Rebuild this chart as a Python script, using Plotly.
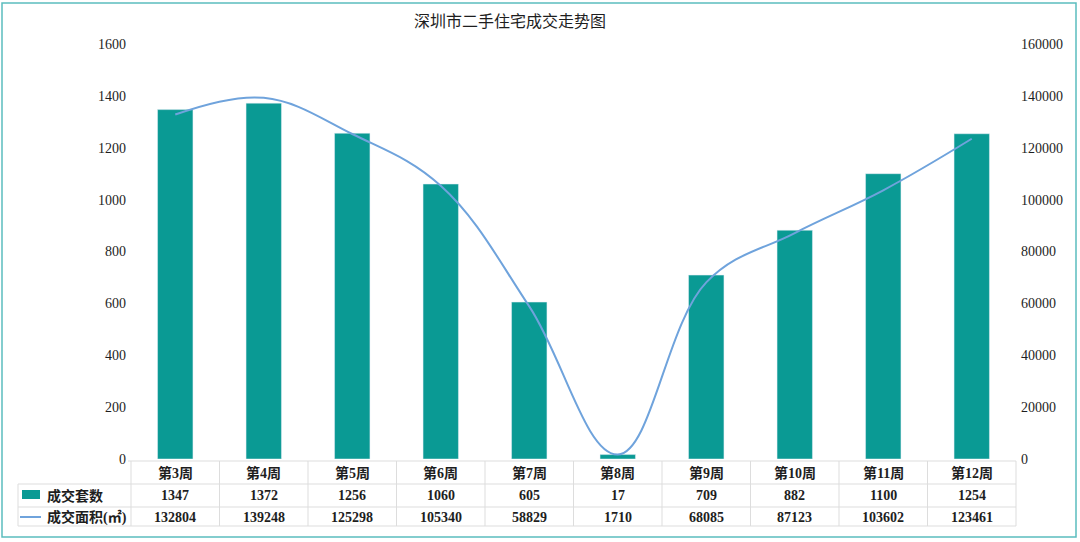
import plotly.graph_objects as go

weeks = ["第3周", "第4周", "第5周", "第6周", "第7周", "第8周", "第9周", "第10周", "第11周", "第12周"]
units = [1347, 1372, 1256, 1060, 605, 17, 709, 882, 1100, 1254]
area = [132804, 139248, 125298, 105340, 58829, 1710, 68085, 87123, 103602, 123461]
left_ticks = [0, 200, 400, 600, 800, 1000, 1200, 1400, 1600]
right_ticks = [0, 20000, 40000, 60000, 80000, 100000, 120000, 140000, 160000]
title = "深圳市二手住宅成交走势图"
name_units = "成交套数"
name_area = "成交面积(㎡)"

W, H = 1080, 542
L, R, T, B = 131, 1016, 44, 459
PW, PH = R - L, B - T

def px(x):
    return (x - L) / PW

def py(y):
    return (B - y) / PH

BAR = "#0A9A94"
LINE = "#6FA3DC"
GRID = "#DDDDDD"
FONT = "Liberation Serif, Noto Sans CJK SC, serif"
TXT = "#1E1E1E"

fig = go.Figure()
fig.add_trace(go.Bar(x=weeks, y=units, name=name_units, marker_color=BAR, width=0.4, yaxis="y"))
fig.add_trace(go.Scatter(x=weeks, y=area, name=name_area, mode="lines",
                         line=dict(color=LINE, width=2, shape="spline", smoothing=1.1), yaxis="y2"))

shapes = []
annotations = []
row_lines = [461, 484, 507, 526]
for i, yy in enumerate(row_lines):
    x0 = 128 if i == 0 else 18
    shapes.append(dict(type="line", xref="paper", yref="paper", x0=px(x0), x1=px(R), y0=py(yy), y1=py(yy),
                       line=dict(color=GRID, width=1)))
for k in range(len(weeks) + 1):
    xx = L + k * PW / len(weeks)
    shapes.append(dict(type="line", xref="paper", yref="paper", x0=px(xx), x1=px(xx), y0=py(461), y1=py(526),
                       line=dict(color=GRID, width=1)))
shapes.append(dict(type="line", xref="paper", yref="paper", x0=px(18), x1=px(18), y0=py(484), y1=py(526),
                   line=dict(color=GRID, width=1)))
shapes.append(dict(type="rect", xref="paper", yref="paper", x0=px(22), x1=px(40), y0=py(499), y1=py(490),
                   fillcolor=BAR, line=dict(width=0)))
shapes.append(dict(type="line", xref="paper", yref="paper", x0=px(20), x1=px(41), y0=py(517), y1=py(517),
                   line=dict(color=LINE, width=2)))
shapes.append(dict(type="rect", xref="paper", yref="paper", x0=px(2), x1=px(1076), y0=py(537), y1=py(3),
                   line=dict(color="#5BBDBE", width=1.5)))

cell_font = dict(size=14, color=TXT, family=FONT, weight="bold")
for w, u, a in zip(weeks, units, area):
    for yy, txt in ((472.5, w), (495.5, str(u)), (517, str(a))):
        annotations.append(dict(x=w, y=py(yy), xref="x", yref="paper", text=txt, showarrow=False,
                                xanchor="center", yanchor="middle", font=cell_font))
annotations.append(dict(x=px(45), y=py(495.5), xref="paper", yref="paper", text=name_units, showarrow=False,
                        xanchor="left", yanchor="middle", font=cell_font))
annotations.append(dict(x=px(45), y=py(517), xref="paper", yref="paper", text=name_area, showarrow=False,
                        xanchor="left", yanchor="middle", font=cell_font))

tick_font = dict(size=14, color=TXT, family=FONT)
fig.update_layout(
    width=W, height=H,
    margin=dict(l=L, r=W - R, t=T, b=H - B, pad=0),
    paper_bgcolor="white", plot_bgcolor="white",
    showlegend=False,
    title=dict(text=title, x=510 / W, xanchor="center", y=1 - 21 / H, yanchor="middle",
               font=dict(size=16, color=TXT, family=FONT)),
    font=dict(family=FONT, size=13, color=TXT),
    xaxis=dict(showticklabels=False, showgrid=False, zeroline=False, showline=False, ticks=""),
    yaxis=dict(range=[0, 1600], tickvals=left_ticks, showgrid=False, zeroline=False, showline=False,
               tickfont=tick_font, ticklabelstandoff=4),
    yaxis2=dict(range=[0, 160000], tickvals=right_ticks, tickformat="d", overlaying="y", side="right",
                showgrid=False, zeroline=False, showline=False, tickfont=tick_font, ticklabelstandoff=4),
    shapes=shapes, annotations=annotations,
    bargap=0.6,
)

fig.write_html("out.html", config={"displayModeBar": False},
               post_script="document.body.style.margin='0';document.body.style.overflow='hidden';")
